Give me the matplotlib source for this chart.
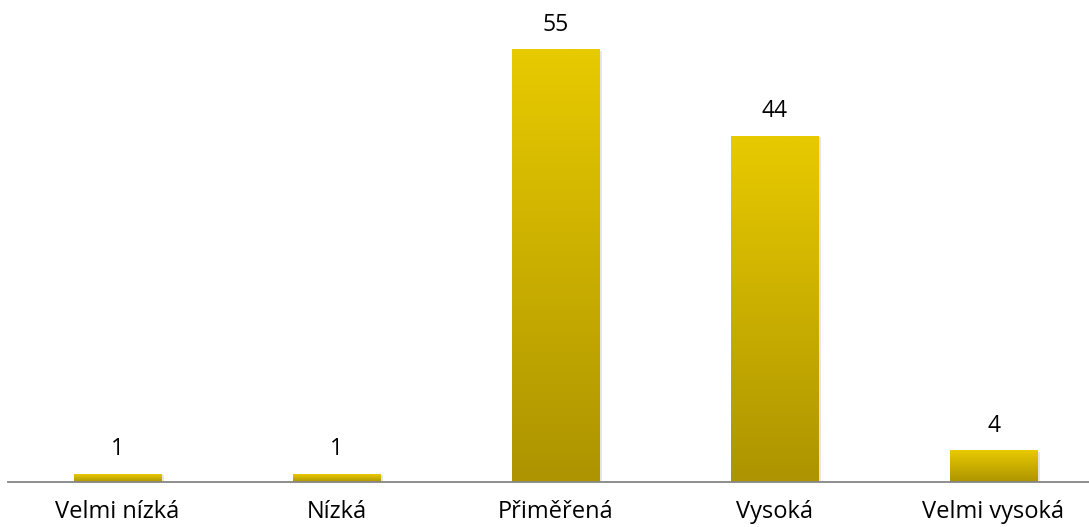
import matplotlib
matplotlib.use("Agg")
import matplotlib.pyplot as plt
import numpy as np
from matplotlib.colors import LinearSegmentedColormap

categories = ["Velmi nízká", "Nízká", "Přiměřená", "Vysoká", "Velmi vysoká"]
values = [1, 1, 55, 44, 4]

plt.rcParams['font.family'] = ['Open Sans', 'DejaVu Sans']

fig = plt.figure(figsize=(10.89, 5.27), dpi=100)
ax = fig.add_axes([8/1089, (527-482)/527, 1 - 8/1089, 482/527])
ymax = 482 / 7.86
xmax = (1089 - 8) / 219 - 0.5

cmap = LinearSegmentedColormap.from_list("g", ["#AD9400", "#E8CA00"])
width = 0.40
x = np.arange(len(categories))
bars = ax.bar(x, values, width=width, color="none", edgecolor="none")
grad = np.linspace(0, 1, 256).reshape(-1, 1)
for b, v in zip(bars, values):
    x0 = b.get_x(); w = b.get_width(); h = b.get_height()
    ax.bar(x0 + w/2 + 0.012, h, width=w, bottom=-0.15, color="#000000", alpha=0.10, zorder=1)
    ax.imshow(grad, extent=[x0, x0 + w, 0, h], origin="lower", cmap=cmap,
              aspect="auto", zorder=2)
    ax.text(x0 + w/2, h + 25/7.86, str(v), ha="center", va="center", fontsize=16.5, color="#000000")

ax.set_xlim(-0.5, xmax)
ax.set_ylim(0, ymax)
for s in ["top", "right", "left"]:
    ax.spines[s].set_visible(False)
ax.spines["bottom"].set_color("#868686")
ax.spines["bottom"].set_linewidth(1.3)
ax.set_yticks([])
ax.set_xticks(x)
ax.set_xticklabels(categories, fontsize=17)
ax.tick_params(axis="x", length=0, pad=13)
ax.patch.set_alpha(0)

fig.savefig("out.png", dpi=100)
